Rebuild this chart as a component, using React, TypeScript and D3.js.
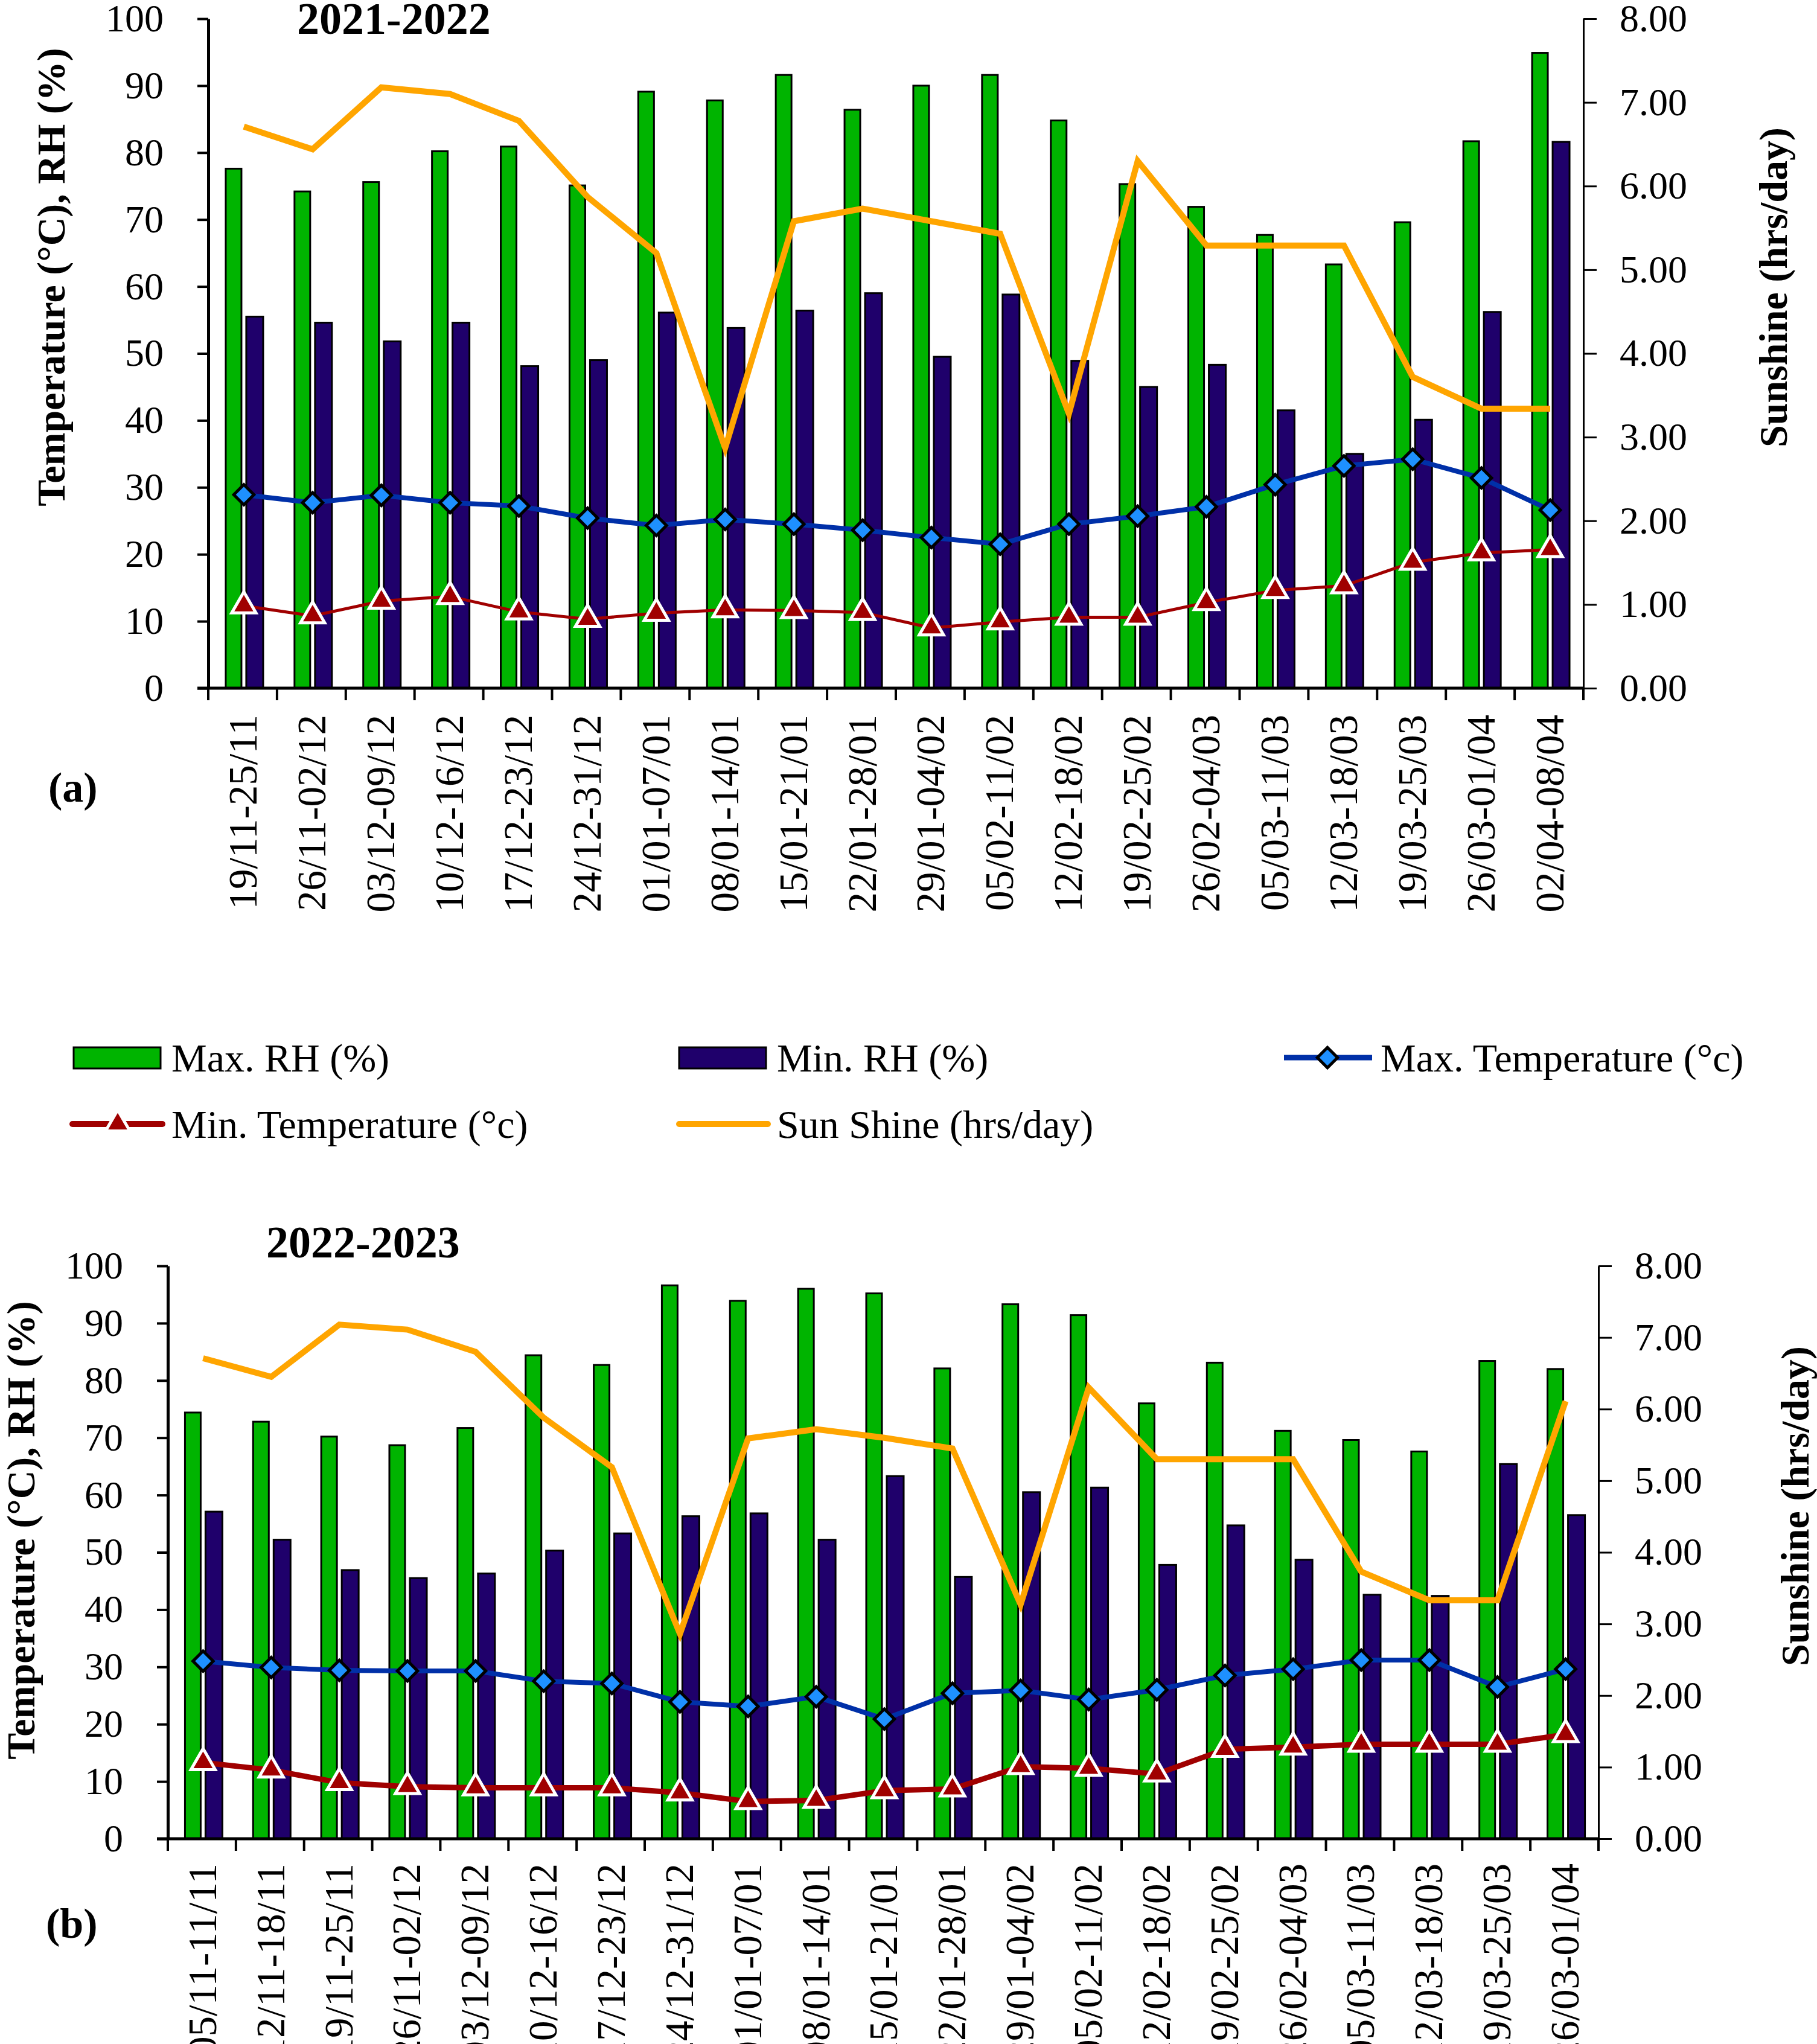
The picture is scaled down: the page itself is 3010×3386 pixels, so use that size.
import React, { useEffect, useRef } from 'react';
import * as d3 from 'd3';

// ---- data: season 2021-2022 ----
const weeksA = [
  '19/11-25/11', '26/11-02/12', '03/12-09/12', '10/12-16/12', '17/12-23/12',
  '24/12-31/12', '01/01-07/01', '08/01-14/01', '15/01-21/01', '22/01-28/01',
  '29/01-04/02', '05/02-11/02', '12/02-18/02', '19/02-25/02', '26/02-04/03',
  '05/03-11/03', '12/03-18/03', '19/03-25/03', '26/03-01/04', '02/04-08/04',
];
const maxRhA = [77.6, 74.2, 75.6, 80.2, 80.9, 75.1, 89.1, 87.8, 91.6, 86.4, 90.0, 91.6, 84.8, 75.3, 71.9, 67.7, 63.3, 69.6, 81.7, 94.9];
const minRhA = [55.5, 54.6, 51.8, 54.6, 48.1, 49.0, 56.1, 53.8, 56.4, 59.0, 49.5, 58.8, 48.9, 45.0, 48.3, 41.5, 35.0, 40.1, 56.2, 81.6];
const maxTempA = [28.9, 27.7, 28.8, 27.7, 27.2, 25.4, 24.3, 25.2, 24.5, 23.6, 22.5, 21.5, 24.5, 25.7, 27.1, 30.4, 33.2, 34.2, 31.4, 26.6];
const minTempA = [12.3, 10.8, 13.0, 13.7, 11.4, 10.3, 11.2, 11.7, 11.6, 11.3, 9.0, 9.9, 10.6, 10.6, 12.8, 14.6, 15.3, 18.8, 20.2, 20.7];
const sunA = [6.71, 6.44, 7.18, 7.10, 6.78, 5.87, 5.20, 2.87, 5.58, 5.73, 5.58, 5.43, 3.28, 6.30, 5.29, 5.29, 5.29, 3.72, 3.34, 3.34];

// ---- data: season 2022-2023 ----
const weeksB = [
  '05/11-11/11', '12/11-18/11', '19/11-25/11', '26/11-02/12', '03/12-09/12',
  '10/12-16/12', '17/12-23/12', '24/12-31/12', '01/01-07/01', '08/01-14/01',
  '15/01-21/01', '22/01-28/01', '29/01-04/02', '05/02-11/02', '12/02-18/02',
  '19/02-25/02', '26/02-04/03', '05/03-11/03', '12/03-18/03', '19/03-25/03',
  '26/03-01/04',
];
const maxRhB = [74.4, 72.8, 70.2, 68.7, 71.7, 84.4, 82.7, 96.6, 93.9, 96.0, 95.2, 82.1, 93.3, 91.4, 76.0, 83.1, 71.2, 69.6, 67.6, 83.4, 82.0];
const minRhB = [57.1, 52.2, 46.9, 45.5, 46.3, 50.3, 53.3, 56.3, 56.8, 52.2, 63.3, 45.7, 60.5, 61.3, 47.8, 54.7, 48.7, 42.6, 42.4, 65.4, 56.5];
const maxTempB = [31.0, 29.9, 29.4, 29.3, 29.3, 27.5, 27.1, 23.9, 23.1, 24.8, 20.9, 25.4, 25.9, 24.3, 26.0, 28.5, 29.6, 31.2, 31.2, 26.5, 29.6];
const minTempB = [13.3, 12.0, 9.8, 9.1, 8.9, 8.9, 8.9, 8.0, 6.5, 6.7, 8.4, 8.7, 12.6, 12.3, 11.3, 15.6, 16.0, 16.5, 16.5, 16.5, 18.2];
const sunB = [6.71, 6.45, 7.18, 7.11, 6.80, 5.88, 5.19, 2.86, 5.59, 5.72, 5.60, 5.45, 3.27, 6.30, 5.30, 5.30, 5.30, 3.73, 3.33, 3.33, 6.11];

const legendItems = [
  'Max. RH (%)', 'Min. RH (%)', 'Max. Temperature (°c)',
  'Min. Temperature (°c)', 'Sun Shine (hrs/day)',
];

const GREEN = '#00B400';
const NAVY = '#1F006B';
const BLUE = '#0030A8';
const DIAMOND = '#1E90FF';
const RED = '#A00000';
const ORANGE = '#FFA500';
const FONT = '"Liberation Serif", "Times New Roman", serif';

type Panel = {
  weeks: string[];
  maxRh: number[];
  minRh: number[];
  maxTemp: number[];
  minTemp: number[];
  sun: number[];
  left: number;
  right: number;
  top: number;
  bottom: number;
  title: string;
  titleX: number;
  titleY: number;
  tag: string;
  tagX: number;
  tagY: number;
  leftTitleX: number;
  leftTitleY: number;
  rightTitleX: number;
  rightTitleY: number;
  labelTop: number;
  redWidth: number;
};

const diamond = d3.symbol().type(d3.symbolSquare).size(560);
const triangle = d3.symbol().type(d3.symbolTriangle).size(700);

const drawPanel = (svg: d3.Selection<SVGSVGElement, unknown, null, undefined>, p: Panel) => {
  const g = svg.append('g');

  const x = d3.scaleBand<string>().domain(p.weeks).range([p.left, p.right]);
  const yL = d3.scaleLinear().domain([0, 100]).range([p.bottom, p.top]);
  const yR = d3.scaleLinear().domain([0, 8]).range([p.bottom, p.top]);
  const cx = (i: number) => (x(p.weeks[i]) as number) + x.bandwidth() / 2 + 2;

  // bars
  g.selectAll('.max-rh')
    .data(p.maxRh)
    .join('rect')
      .attr('x', (d, i) => cx(i) - 30)
      .attr('width', 26)
      .attr('y', d => yL(d))
      .attr('height', d => yL(0) - yL(d))
      .attr('fill', GREEN)
      .attr('stroke', '#000')
      .attr('stroke-width', 3);

  g.selectAll('.min-rh')
    .data(p.minRh)
    .join('rect')
      .attr('x', (d, i) => cx(i) + 4)
      .attr('width', 28)
      .attr('y', d => yL(d))
      .attr('height', d => yL(0) - yL(d))
      .attr('fill', NAVY)
      .attr('stroke', '#000')
      .attr('stroke-width', 3);

  // sunshine line (right axis)
  const sunLine = d3.line<number>().x((d, i) => cx(i)).y(d => yR(d));
  g.append('path')
    .datum(p.sun)
    .attr('fill', 'none')
    .attr('stroke', ORANGE)
    .attr('stroke-width', 10)
    .attr('stroke-linejoin', 'miter')
    .attr('d', sunLine);

  // max temperature
  const tLine = d3.line<number>().x((d, i) => cx(i)).y(d => yL(d));
  g.append('path')
    .datum(p.maxTemp)
    .attr('fill', 'none')
    .attr('stroke', BLUE)
    .attr('stroke-width', 8)
    .attr('d', tLine);

  g.selectAll('.dia')
    .data(p.maxTemp)
    .join('path')
      .attr('d', diamond)
      .attr('transform', (d, i) => `translate(${cx(i)},${yL(d)}) rotate(45)`)
      .attr('fill', DIAMOND)
      .attr('stroke', '#000')
      .attr('stroke-width', 5);

  // min temperature
  g.append('path')
    .datum(p.minTemp)
    .attr('fill', 'none')
    .attr('stroke', RED)
    .attr('stroke-width', p.redWidth)
    .attr('d', tLine);

  g.selectAll('.tri')
    .data(p.minTemp)
    .join('path')
      .attr('d', triangle)
      .attr('transform', (d, i) => `translate(${cx(i)},${yL(d)})`)
      .attr('fill', RED)
      .attr('stroke', '#fff')
      .attr('stroke-width', 5);

  // left axis
  const leftAxis = g.append('g')
    .attr('transform', `translate(${p.left},0)`)
    .call(d3.axisLeft(yL).ticks(10).tickSize(18).tickSizeOuter(0).tickPadding(56));
  leftAxis.select('.domain').attr('stroke-width', 5);
  leftAxis.selectAll('.tick line').attr('stroke-width', 4);
  leftAxis.selectAll('text')
    .attr('font-size', 64)
    .attr('font-family', FONT)
    .attr('fill', '#000');

  // right axis
  const rightAxis = g.append('g')
    .attr('transform', `translate(${p.right},0)`)
    .call(d3.axisRight(yR).ticks(8).tickFormat(d3.format('.2f')).tickSize(22).tickSizeOuter(0).tickPadding(38));
  rightAxis.select('.domain').attr('stroke-width', 3);
  rightAxis.selectAll('.tick line').attr('stroke-width', 3);
  rightAxis.selectAll('text')
    .attr('font-size', 64)
    .attr('font-family', FONT)
    .attr('fill', '#000');

  // bottom axis with ticks on category boundaries
  g.append('line')
    .attr('x1', p.left - 18)
    .attr('x2', p.right)
    .attr('y1', yL(0))
    .attr('y2', yL(0))
    .attr('stroke', '#000')
    .attr('stroke-width', 5);

  const edges = [...p.weeks.map(w => x(w) as number), p.right];
  g.selectAll('.xtick')
    .data(edges)
    .join('line')
      .attr('x1', d => d)
      .attr('x2', d => d)
      .attr('y1', yL(0))
      .attr('y2', yL(0) + 20)
      .attr('stroke', '#000')
      .attr('stroke-width', 4);

  g.selectAll('.xlabel')
    .data(p.weeks)
    .join('text')
      .attr('transform', (d, i) => `translate(${cx(i) - 2},${p.labelTop}) rotate(-90)`)
      .attr('text-anchor', 'end')
      .attr('dy', '0.35em')
      .attr('font-size', 67)
      .attr('font-family', FONT)
      .text(d => d);

  // titles
  g.append('text')
    .attr('x', p.titleX)
    .attr('y', p.titleY)
    .attr('font-size', 74)
    .attr('font-weight', 'bold')
    .attr('font-family', FONT)
    .text(p.title);

  g.append('text')
    .attr('x', p.tagX)
    .attr('y', p.tagY)
    .attr('font-size', 70)
    .attr('font-weight', 'bold')
    .attr('font-family', FONT)
    .text(p.tag);

  g.append('text')
    .attr('transform', `translate(${p.leftTitleX},${p.leftTitleY}) rotate(-90)`)
    .attr('text-anchor', 'middle')
    .attr('dy', '0.35em')
    .attr('font-size', 66)
    .attr('font-weight', 'bold')
    .attr('font-family', FONT)
    .text('Temperature (°C), RH (%)');

  g.append('text')
    .attr('transform', `translate(${p.rightTitleX},${p.rightTitleY}) rotate(-90)`)
    .attr('text-anchor', 'middle')
    .attr('dy', '0.35em')
    .attr('font-size', 66)
    .attr('font-weight', 'bold')
    .attr('font-family', FONT)
    .text('Sunshine (hrs/day)');
};

const drawLegend = (svg: d3.Selection<SVGSVGElement, unknown, null, undefined>) => {
  const lg = svg.append('g').attr('font-family', FONT).attr('font-size', 66);
  const row1 = 1752;
  const row2 = 1862;

  // Max. RH
  lg.append('rect').attr('x', 122).attr('y', row1 - 17).attr('width', 144).attr('height', 35)
    .attr('fill', GREEN).attr('stroke', '#000').attr('stroke-width', 3);
  lg.append('text').attr('x', 284).attr('y', row1).attr('dy', '0.35em').text(legendItems[0]);

  // Min. RH
  lg.append('rect').attr('x', 1125).attr('y', row1 - 17).attr('width', 144).attr('height', 35)
    .attr('fill', NAVY).attr('stroke', '#000').attr('stroke-width', 3);
  lg.append('text').attr('x', 1287).attr('y', row1).attr('dy', '0.35em').text(legendItems[1]);

  // Max. Temperature
  lg.append('line').attr('x1', 2127).attr('x2', 2273).attr('y1', row1).attr('y2', row1)
    .attr('stroke', BLUE).attr('stroke-width', 9);
  lg.append('path').attr('d', diamond).attr('transform', `translate(2199,${row1}) rotate(45)`)
    .attr('fill', DIAMOND).attr('stroke', '#000').attr('stroke-width', 5);
  lg.append('text').attr('x', 2287).attr('y', row1).attr('dy', '0.35em').text(legendItems[2]);

  // Min. Temperature
  lg.append('line').attr('x1', 120).attr('x2', 269).attr('y1', row2).attr('y2', row2)
    .attr('stroke', RED).attr('stroke-width', 10).attr('stroke-linecap', 'round');
  lg.append('path').attr('d', triangle).attr('transform', `translate(195,${row2})`)
    .attr('fill', RED).attr('stroke', '#fff').attr('stroke-width', 5);
  lg.append('text').attr('x', 284).attr('y', row2).attr('dy', '0.35em').text(legendItems[3]);

  // Sun Shine
  lg.append('line').attr('x1', 1125).attr('x2', 1272).attr('y1', row2).attr('y2', row2)
    .attr('stroke', ORANGE).attr('stroke-width', 10).attr('stroke-linecap', 'round');
  lg.append('text').attr('x', 1287).attr('y', row2).attr('dy', '0.35em').text(legendItems[4]);
};

const App: React.FC = () => {
  const svgRef = useRef<SVGSVGElement>(null);

  useEffect(() => {
    if (!svgRef.current) return;
    const svg = d3.select(svgRef.current);
    svg.selectAll('*').remove();

    drawPanel(svg, {
      weeks: weeksA, maxRh: maxRhA, minRh: minRhA, maxTemp: maxTempA, minTemp: minTempA, sun: sunA,
      left: 345, right: 2623, top: 31, bottom: 1140,
      title: '2021-2022', titleX: 492, titleY: 56,
      tag: '(a)', tagX: 80, tagY: 1328,
      leftTitleX: 84, leftTitleY: 459,
      rightTitleX: 2937, rightTitleY: 476,
      labelTop: 1184, redWidth: 5,
    });

    drawPanel(svg, {
      weeks: weeksB, maxRh: maxRhB, minRh: minRhB, maxTemp: maxTempB, minTemp: minTempB, sun: sunB,
      left: 278, right: 2648, top: 2097, bottom: 3046,
      title: '2022-2023', titleX: 441, titleY: 2083,
      tag: '(b)', tagX: 76, tagY: 3210,
      leftTitleX: 34, leftTitleY: 2535,
      rightTitleX: 2973, rightTitleY: 2495,
      labelTop: 3087, redWidth: 9,
    });

    drawLegend(svg);
  }, []);

  return (
    <>
      <style>{'body { margin: 0; }'}</style>
      <svg ref={svgRef} width={3010} height={3386} style={{ display: 'block', background: '#fff' }} />
    </>
  );
};

export default App;
